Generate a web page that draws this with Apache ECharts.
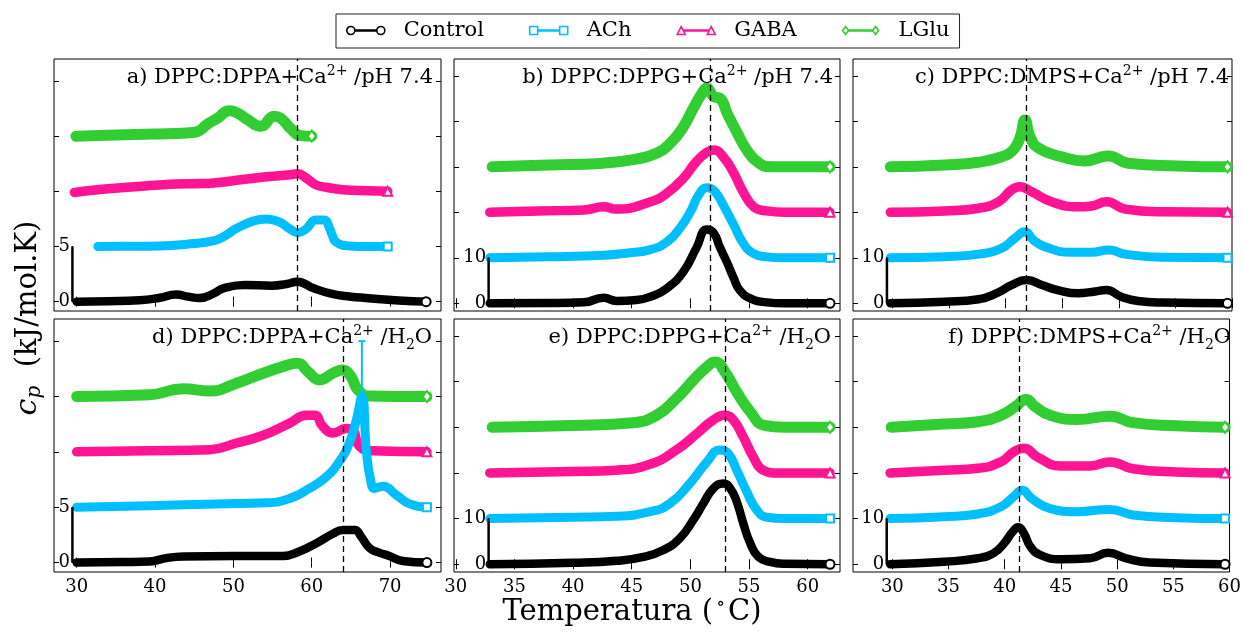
<!DOCTYPE html>
<html>
<head>
<meta charset="utf-8">
<script src="https://cdn.jsdelivr.net/npm/echarts@6/dist/echarts.min.js"></script>
<style>
html,body{margin:0;padding:0;background:#fff;}
#chart{width:1244px;height:632px;}
</style>
</head>
<body>
<div id="chart"></div>
<script>
// ---------------- DATA ----------------
const seriesNames = ['Control', 'ACh', 'GABA', 'LGlu'];
// vertical offsets of the stacked curves (kJ/mol.K)
const offsetsDPPA = [0, 5, 10, 15];
const offsetsOther = [0, 10, 20, 30];
// tick values
const xTicksDPPA = [30, 40, 50, 60, 70];
const xTicksOther = [30, 35, 40, 45, 50, 55, 60];
const yTicksDPPA = [0, 5, 10, 15, 20];
const yTicksOther = [0, 10, 20, 30, 40, 50];
// dashed reference temperatures per panel a..f
const refTemps = [58.2, 51.65, 41.8, 64.0, 52.95, 41.25];
// scale bar (position T, height) per panel a..f
const scaleBarT = [29.45, 32.8, 29.5, 29.45, 32.8, 29.5];
const scaleBarH = [5, 10, 10, 5, 10, 10];
// error bar on the ACh peak in panel d: [T, low, high] (relative to ACh baseline)
const dAChErrorBar = [66.4, 10, 15];

// Panel a) DPPC:DPPA+Ca2+/pH 7.4   [T (°C), cp above baseline]
const aControl = [[30,0],[34,0.03],[38,0.12],[40.6,0.35],[42.7,0.65],[44.2,0.45],[45.7,0.32],[47.5,0.75],[48.7,1.2],[51.5,1.5],[54.9,1.45],[56.8,1.6],[58.2,1.8],[59.3,1.55],[60.1,1.25],[62.6,0.7],[65,0.45],[66.9,0.33],[71.1,0.1],[74.6,0]];
const aACh = [[32.7,0],[36,0.02],[40.6,0.05],[44,0.2],[47.4,0.5],[49,1.0],[50.3,1.6],[52.5,2.3],[54.2,2.5],[55.9,2.2],[57.2,1.6],[58.2,1.25],[59.3,1.6],[60.5,2.4],[61.6,2.4],[62.3,1.6],[62.6,1.05],[63.1,0.4],[64.8,0.05],[67,0],[69.7,0]];
const aGABA = [[29.7,-0.1],[32,0.1],[36,0.35],[40,0.55],[42.7,0.67],[46,0.7],[48,0.8],[50.4,1.0],[54.2,1.33],[57.3,1.5],[58.2,1.6],[59.3,1.2],[60.5,0.6],[62,0.35],[64,0.15],[67,0.05],[69.7,0]];
const aLGlu = [[29.9,0],[35,0.1],[40,0.2],[44,0.3],[45.3,0.4],[46.7,1.1],[47.9,1.6],[49.5,2.3],[50.5,2.1],[51.8,1.5],[53.5,0.9],[55.2,1.8],[56,1.65],[57.3,0.7],[58.6,0.05],[60,0]];

// Panel b) DPPC:DPPG+Ca2+/pH 7.4
const bControl = [[32.9,0],[38,0.05],[40.9,0.2],[42.6,1.2],[43.7,0.5],[45.4,0.7],[46.6,1.45],[48,3.3],[49.4,6.95],[50.5,12.1],[51.4,16.2],[52,15.4],[52.5,12.4],[53.1,9.1],[53.7,5.5],[54.2,2.9],[55.1,1.1],[56.5,0.2],[58,0],[61.9,0]];
const bACh = [[32.9,0],[38,0.2],[42.6,0.55],[44.5,1.0],[46.6,1.8],[48,3.5],[49.1,6.5],[50,10.1],[50.7,13.8],[51.4,15.4],[52.1,14.5],[52.8,11.6],[53.7,7.2],[54.5,3.2],[55.4,0.9],[56.5,0.2],[58,0],[61.9,0]];
const bGABA = [[32.9,0],[37,0.3],[40.9,0.5],[42.6,1.2],[43.7,0.7],[46.6,2.3],[48,4.2],[49.4,7.5],[50.5,11.1],[51.4,13.2],[52,13.7],[52.8,12.2],[53.7,8.6],[54.5,4.5],[55.4,1.2],[56.5,0.3],[58,0],[61.9,0]];
const bLGlu = [[33.1,0],[38,0.4],[42.3,0.75],[45.4,1.7],[47.1,3.0],[48.3,5.2],[49.4,8.8],[50.25,12.9],[51,16.2],[51.4,17.3],[52,15.4],[52.5,15.1],[53.2,11.4],[54,7.4],[54.8,3.7],[55.7,1.1],[56.8,0],[61.9,0]];

// Panel c) DPPC:DMPS+Ca2+/pH 7.4
const cControl = [[29.8,0],[34.6,0.35],[37.6,0.9],[39.35,2.4],[40.5,4.0],[41.85,5.1],[43.2,4.0],[44.6,2.9],[46.4,2.2],[47.9,2.6],[48.9,2.9],[50.2,1.45],[51.7,0.5],[53.8,0.15],[59.6,0]];
const cACh = [[29.8,0],[34.6,0.25],[37.6,0.8],[39.65,2.1],[40.8,4.3],[41.7,5.7],[42.45,3.9],[43.5,2.4],[45.8,1.2],[47.6,1.2],[49.1,1.7],[50.55,0.8],[53.8,0.1],[59.6,0]];
const cGABA = [[29.8,0],[34.6,0.3],[37.6,0.9],[39.35,2.3],[40.5,4.9],[41.25,5.6],[42.3,4.5],[44.05,2.3],[46.4,1.2],[47.6,1.4],[48.9,2.3],[50.55,0.7],[53.8,0.1],[59.6,0]];
const cLGlu = [[29.8,0],[34.6,0.4],[37.6,1.0],[39.65,2.2],[40.65,3.7],[41.25,6.3],[41.7,10.3],[42.15,6.6],[42.9,4.1],[44.95,2.2],[47,1.3],[49.05,2.4],[50.8,0.8],[55.25,0.2],[59.6,0]];

// Panel d) DPPC:DPPA+Ca2+/H2O
const dControl = [[30,0],[36,0.05],[39.3,0.1],[41.4,0.4],[43.6,0.55],[50,0.6],[56.3,0.6],[58.4,1.0],[60.6,1.75],[62.7,2.6],[64,2.95],[65.5,2.95],[66.3,2.35],[67.4,1.3],[68.6,0.9],[69.9,0.6],[71.6,0.15],[74.7,0]];
const dACh = [[30,0],[39.3,0.14],[47.8,0.3],[54.2,0.4],[57.2,0.8],[59.7,1.7],[61.85,2.75],[63.5,4.1],[64.8,5.8],[65.7,7.9],[66.4,10],[67,4.9],[67.5,2.5],[68,1.7],[69.1,1.9],[70.8,1.1],[72.5,0.3],[74.7,0]];
const dGABA = [[30,0],[39.3,0.1],[47,0.2],[50.4,0.8],[53.8,1.5],[57.2,2.6],[59.3,3.3],[60.4,3.3],[61.4,2.3],[62.7,1.7],[64.4,2.1],[65.2,2.0],[66.1,0.5],[67.8,0.1],[74.7,0]];
const dLGlu = [[30,0],[39.3,0.15],[43.6,0.7],[47,0.5],[50.4,1.2],[53.8,2.1],[56.3,2.7],[58.2,3.0],[59.5,2.25],[61,1.5],[62.7,2.1],[64,2.4],[65,1.8],[65.9,0.6],[67.4,0.05],[74.7,0]];

// Panel e) DPPC:DPPG+Ca2+/H2O
const eControl = [[32.9,0],[40,0.3],[43.7,0.75],[46,1.6],[47.7,3.1],[49.1,5.7],[50.25,9.7],[51.1,13.3],[51.95,16.6],[52.8,17.7],[53.4,16.6],[53.95,13.7],[54.5,9.0],[55.1,4.6],[55.8,1.6],[56.8,0.5],[58,0.1],[61.9,0]];
const eACh = [[32.9,0],[40,0.3],[43.7,0.5],[46.55,1.5],[48.25,3.3],[49.95,7.7],[51.4,12.4],[52.5,15],[53.2,14.3],[53.95,10.6],[54.8,5.9],[55.65,1.9],[56.5,0.3],[58,0],[61.9,0]];
const eGABA = [[32.9,0],[40,0.3],[43.7,0.6],[46.55,1.9],[48.8,5.0],[50.55,8.6],[51.95,11.6],[52.95,12.6],[53.65,11.6],[54.5,7.9],[55.35,3.5],[56.2,0.6],[57.4,0],[61.9,0]];
const eLGlu = [[33.1,0],[40,0.4],[45.1,1.0],[47.1,2.6],[48.8,6.3],[50.25,10.3],[51.4,13.2],[52.1,14.3],[52.95,12.1],[53.95,7.7],[55.1,3.4],[56.3,0.4],[58,0],[61.9,0]];

// Panel f) DPPC:DMPS+Ca2+/H2O
const fControl = [[29.8,0],[34.6,0.55],[37.6,1.3],[39.05,2.5],[39.95,4.6],[40.7,7.1],[41.2,8.1],[41.7,6.8],[42.3,3.8],[43.2,2.0],[44.95,1.1],[47.6,1.3],[49.2,2.5],[50.8,1.3],[52.9,0.4],[59.6,0]];
const fACh = [[29.8,0],[34.6,0.4],[37.6,1.0],[39.65,2.6],[40.8,4.8],[41.55,6.2],[42.4,4.4],[44.05,2.2],[46.4,1.5],[49.35,2.0],[51.4,0.8],[55.25,0.2],[59.6,0]];
const fGABA = [[29.8,0],[34.6,0.6],[37.6,1.0],[39.65,2.4],[40.8,4.6],[41.7,5.4],[42.9,3.5],[44.95,1.5],[47.6,1.5],[49.35,2.4],[51.4,0.9],[55.25,0.2],[59.6,0]];
const fLGlu = [[29.9,0],[34.6,0.7],[37.6,1.2],[39.65,2.6],[40.95,4.5],[41.9,6.1],[42.7,4.5],[44.05,2.6],[46.4,1.7],[49.35,2.4],[51.4,1.0],[55.25,0.3],[59.6,0]];

const panelTitles = [
  '{n|a) DPPC:DPPA+Ca}{sup|2+}{n| /pH 7.4}',
  '{n|b) DPPC:DPPG+Ca}{sup|2+}{n| /pH 7.4}',
  '{n|c) DPPC:DMPS+Ca}{sup|2+}{n| /pH 7.4}',
  '{n|d) DPPC:DPPA+Ca}{sup|2+}{n| /H}{sub|2}{n|O}',
  '{n|e) DPPC:DPPG+Ca}{sup|2+}{n| /H}{sub|2}{n|O}',
  '{n|f) DPPC:DMPS+Ca}{sup|2+}{n| /H}{sub|2}{n|O}'
];

// ---------------- STYLE / LAYOUT ----------------
const serif = 'DejaVu Serif';
const seriesColors = ['#000000', '#00bfff', '#ff1493', '#32cd32'];
const markerShapes = ['emptyCircle', 'emptyRect', 'emptyTriangle', 'emptyDiamond'];
const markerSizes = [9, 8, 9, [8, 11]];
const bandWidths = [8.5, 9, 9.5, 11];
const gridBoxes = [
  {left: 54, top: 59, width: 387, height: 252},
  {left: 454, top: 59, width: 386, height: 252},
  {left: 853, top: 59, width: 379, height: 252},
  {left: 54, top: 319, width: 387, height: 253},
  {left: 454, top: 319, width: 386, height: 253},
  {left: 853, top: 319, width: 379, height: 253}
];
const xRanges = [[27.1, 76.5], [29.85, 62.75], [26.5, 60.0], [27.1, 76.5], [29.85, 62.75], [26.5, 60.0]];
const yRanges = [[-0.85, 22], [-1.7, 53.7], [-1.7, 53.7], [-0.85, 22], [-1.7, 53.7], [-1.7, 53.7]];
const titleRight = [433, 833, 1229, 432, 831, 1231];
const titleCenterY = [78, 78, 78, 338, 338, 338];

const panels = [
  {curves: [aControl, aACh, aGABA, aLGlu], offsets: offsetsDPPA, xTicks: xTicksDPPA, yTicks: yTicksDPPA},
  {curves: [bControl, bACh, bGABA, bLGlu], offsets: offsetsOther, xTicks: xTicksOther, yTicks: yTicksOther},
  {curves: [cControl, cACh, cGABA, cLGlu], offsets: offsetsOther, xTicks: xTicksOther, yTicks: yTicksOther},
  {curves: [dControl, dACh, dGABA, dLGlu], offsets: offsetsDPPA, xTicks: xTicksDPPA, yTicks: yTicksDPPA},
  {curves: [eControl, eACh, eGABA, eLGlu], offsets: offsetsOther, xTicks: xTicksOther, yTicks: yTicksOther},
  {curves: [fControl, fACh, fGABA, fLGlu], offsets: offsetsOther, xTicks: xTicksOther, yTicks: yTicksOther}
];

const grids = [], xAxes = [], yAxes = [], series = [], titles = [];
const tickStyle = {show: true, inside: true, length: 5, lineStyle: {color: '#000', width: 1}};

panels.forEach((pn, p) => {
  grids.push(Object.assign({show: true, borderColor: '#000', borderWidth: 1, backgroundColor: 'transparent'}, gridBoxes[p]));
  const bottomRow = p >= 3;
  xAxes.push({
    type: 'value', gridIndex: p, position: 'bottom', min: xRanges[p][0], max: xRanges[p][1],
    axisLine: {show: false}, splitLine: {show: false},
    axisTick: Object.assign({customValues: pn.xTicks}, tickStyle),
    axisLabel: {show: bottomRow, customValues: pn.xTicks, margin: 6, fontFamily: serif, fontSize: 18, color: '#000'}
  });
  xAxes.push({
    type: 'value', gridIndex: p, position: 'top', min: xRanges[p][0], max: xRanges[p][1],
    axisLine: {show: false}, splitLine: {show: false},
    axisTick: Object.assign({customValues: pn.xTicks}, tickStyle),
    axisLabel: {show: false}
  });
  yAxes.push({
    type: 'value', gridIndex: p, position: 'left', min: yRanges[p][0], max: yRanges[p][1],
    axisLine: {show: false}, splitLine: {show: false},
    axisTick: Object.assign({customValues: pn.yTicks}, tickStyle),
    axisLabel: {show: false}
  });
  yAxes.push({
    type: 'value', gridIndex: p, position: 'right', min: yRanges[p][0], max: yRanges[p][1],
    axisLine: {show: false}, splitLine: {show: false},
    axisTick: Object.assign({customValues: pn.yTicks}, tickStyle),
    axisLabel: {show: false}
  });

  // curves: draw LGlu first, Control last
  for (let k = 3; k >= 0; k--) {
    const pts = pn.curves[k];
    const off = pn.offsets[k];
    const last = pts.length - 1;
    series.push({
      type: 'line', name: seriesNames[k], xAxisIndex: 2 * p, yAxisIndex: 2 * p,
      data: pts.map((pt, i) => i === last
        ? {value: [pt[0], pt[1] + off], symbol: markerShapes[k], symbolSize: markerSizes[k]}
        : {value: [pt[0], pt[1] + off], symbol: 'none'}),
      symbol: markerShapes[k], symbolSize: markerSizes[k],
      showSymbol: true, showAllSymbol: true,
      smooth: 0.5, clip: false, silent: true,
      lineStyle: {color: seriesColors[k], width: bandWidths[k], cap: 'round', join: 'round'},
      itemStyle: {color: seriesColors[k], borderWidth: 1.5},
      emphasis: {disabled: true},
      z: 2
    });
  }

  // scale bar with labels, plus the dashed reference line
  series.push({
    type: 'line', name: 'scale' + p, xAxisIndex: 2 * p, yAxisIndex: 2 * p,
    data: [[scaleBarT[p], 0], [scaleBarT[p], scaleBarH[p]]],
    symbol: 'rect', symbolSize: [1, 1], showSymbol: true, clip: false, silent: true,
    lineStyle: {color: '#000', width: 2.5},
    itemStyle: {color: '#000'},
    label: {show: true, position: 'left', distance: 2, formatter: d => String(d.value[1]),
      fontFamily: serif, fontSize: 18, color: '#000'},
    emphasis: {disabled: true},
    markLine: {
      silent: true, symbol: ['none', 'none'], label: {show: false},
      lineStyle: {color: '#000', type: [6, 4], width: 1.3},
      emphasis: {disabled: true},
      data: [{xAxis: refTemps[p]}]
    },
    z: 6
  });

  titles.push({
    text: panelTitles[p],
    right: 1244 - titleRight[p], top: titleCenterY[p] - 14, padding: 0,
    textStyle: {
      fontWeight: 'normal',
      rich: {
        n: {fontFamily: serif, fontSize: 21, fontWeight: 'normal', color: '#000', lineHeight: 28},
        sup: {fontFamily: serif, fontSize: 14, fontWeight: 'normal', color: '#000', lineHeight: 18, verticalAlign: 'top'},
        sub: {fontFamily: serif, fontSize: 14, fontWeight: 'normal', color: '#000', lineHeight: 17, verticalAlign: 'bottom'}
      }
    }
  });
});

// error bar on ACh peak in panel d
series.push({
  type: 'line', name: 'dAChErr', xAxisIndex: 6, yAxisIndex: 6,
  data: [[dAChErrorBar[0], dAChErrorBar[1] + offsetsDPPA[1]], [dAChErrorBar[0], dAChErrorBar[2] + offsetsDPPA[1]]],
  symbol: 'rect', symbolSize: [7, 2], showSymbol: true, clip: false, silent: true,
  lineStyle: {color: seriesColors[1], width: 2},
  itemStyle: {color: seriesColors[1]},
  emphasis: {disabled: true},
  z: 3
});

// legend icons: marker - line - marker
const legendIcons = [
  'path://M0,4A4,4,0,1,1,8,4A4,4,0,1,1,0,4Z M8,3.5H30V4.5H8Z M30,4A4,4,0,1,1,38,4A4,4,0,1,1,30,4Z',
  'path://M0,0H8V8H0Z M8,3.5H30V4.5H8Z M30,0H38V8H30Z',
  'path://M4,0L8,8H0Z M7,3.5H31V4.5H7Z M34,0L38,8H30Z',
  'path://M4,0L7,4L4,8L1,4Z M7,3.5H31V4.5H7Z M34,0L37,4L34,8L31,4Z'
];

const option = {
  animation: false,
  backgroundColor: '#ffffff',
  textStyle: {fontFamily: serif},
  title: titles,
  legend: {
    left: 336, top: 14, orient: 'horizontal',
    padding: [6, 10, 7, 10], itemGap: 45, itemWidth: 38, itemHeight: 8,
    borderColor: '#222', borderWidth: 1, borderRadius: 0, backgroundColor: '#fff',
    selectedMode: false,
    textStyle: {fontFamily: serif, fontSize: 21, color: '#000', padding: [0, 0, 0, 14]},
    data: seriesNames.map((nm, k) => ({
      name: nm, icon: legendIcons[k],
      itemStyle: {color: '#fff', borderColor: seriesColors[k], borderWidth: 1.6}
    }))
  },
  grid: grids,
  xAxis: xAxes,
  yAxis: yAxes,
  series: series,
  graphic: [
    {
      type: 'text', x: 28, y: 318, rotation: Math.PI / 2, silent: true,
      style: {
        text: '{i|c}{is|p}{n|  (kJ/mol.K)}', align: 'center', verticalAlign: 'middle',
        rich: {
          i: {fontFamily: serif, fontStyle: 'italic', fontSize: 30, fill: '#000', lineHeight: 34},
          is: {fontFamily: serif, fontStyle: 'italic', fontSize: 20, fill: '#000', lineHeight: 22, verticalAlign: 'bottom'},
          n: {fontFamily: serif, fontSize: 29, fill: '#000', lineHeight: 34}
        }
      }
    },
    {
      type: 'text', x: 632, y: 612, silent: true,
      style: {
        text: '{n|Temperatura (}{s|∘}{n|C)}', align: 'center', verticalAlign: 'middle',
        rich: {
          n: {fontFamily: serif, fontSize: 29, fill: '#000', lineHeight: 34},
          s: {fontFamily: serif, fontSize: 18, fill: '#000', lineHeight: 22, verticalAlign: 'top', padding: [0, 3, 0, 3]}
        }
      }
    }
  ]
};

const chart = echarts.init(document.getElementById('chart'), null, {renderer: 'canvas', width: 1244, height: 632});
chart.setOption(option);
</script>
</body>
</html>
